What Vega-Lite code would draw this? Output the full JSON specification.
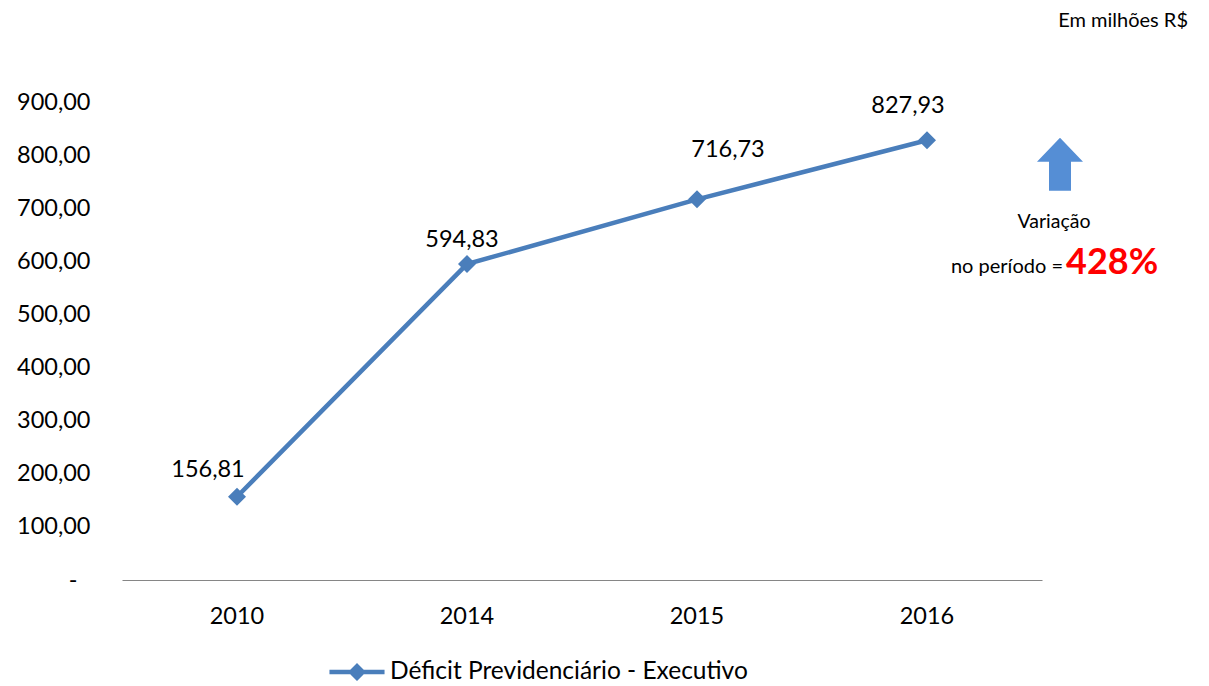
{
  "$schema": "https://vega.github.io/schema/vega-lite/v6.json",
  "autosize": "none",
  "width": 920,
  "height": 478,
  "padding": {"left": 122, "top": 102, "right": 167, "bottom": 106},
  "background": "white",
  "config": {
    "locale": {"number": {"decimal": ",", "thousands": ".", "grouping": [3], "currency": ["R$", ""]}},
    "font": "Lato",
    "view": {"stroke": null},
    "text": {"font": "Lato"}
  },
  "datasets": {
    "main": [
      {"year": "2010", "value": 156.81},
      {"year": "2014", "value": 594.83},
      {"year": "2015", "value": 716.73},
      {"year": "2016", "value": 827.93}
    ]
  },
  "layer": [
    {
      "data": {"name": "main"},
      "mark": {"type": "line", "color": "#4A7EBB", "strokeWidth": 4.5},
      "encoding": {
        "x": {
          "field": "year", "type": "nominal",
          "scale": {"type": "band", "paddingInner": 0, "paddingOuter": 0, "domain": ["2010", "2014", "2015", "2016"]},
          "axis": {"title": null, "labelAngle": 0, "ticks": false, "domainColor": "#868686", "domainWidth": 1.2, "labelFontSize": 23.5, "labelFont": "Lato", "labelColor": "#000", "labelPadding": 24, "grid": false}
        },
        "y": {
          "field": "value", "type": "quantitative",
          "scale": {"domain": [0, 900], "nice": false, "zero": true},
          "axis": {"title": null, "values": [0, 100, 200, 300, 400, 500, 600, 700, 800, 900], "format": ",.2f", "labelExpr": "datum.value === 0 ? '-' : datum.label", "domain": false, "ticks": false, "grid": false, "labelFontSize": 23.5, "labelFont": "Lato", "labelColor": "#000", "labelPadding": {"condition": {"test": "datum.value === 0", "value": 45}, "value": 32}}
        }
      }
    },
    {
      "data": {"name": "main"},
      "mark": {"type": "point", "shape": "diamond", "size": 324, "filled": true, "opacity": 1},
      "encoding": {
        "x": {"field": "year", "type": "nominal"},
        "y": {"field": "value", "type": "quantitative"},
        "color": {
          "datum": "Déficit Previdenciário - Executivo",
          "type": "nominal",
          "scale": {"range": ["#4A7EBB"]},
          "legend": {
            "orient": "none", "legendX": 217, "legendY": 552, "title": null,
            "symbolType": "M-1.53,-0.125L1.53,-0.125L1.53,0.125L-1.53,0.125Z M-0.5,0L0,-0.5L0.5,0L0,0.5Z",
            "symbolSize": 1296, "symbolStrokeWidth": 0, "symbolOpacity": 1, "symbolFillColor": "#4A7EBB",
            "labelFontSize": 24.5, "labelFont": "Lato", "labelColor": "#000", "labelOffset": 15, "padding": 0, "labelLimit": 600
          }
        }
      }
    },
    {"data": {"name": "main"}, "transform": [{"filter": "datum.year === '2010'"}], "mark": {"type": "text", "dx": -29, "dy": -20, "baseline": "alphabetic", "fontSize": 23.5, "color": "#000"}, "encoding": {"x": {"field": "year", "type": "nominal"}, "y": {"field": "value", "type": "quantitative"}, "text": {"field": "value", "type": "quantitative", "format": ",.2f"}}},
    {"data": {"name": "main"}, "transform": [{"filter": "datum.year === '2014'"}], "mark": {"type": "text", "dx": -5, "dy": -17, "baseline": "alphabetic", "fontSize": 23.5, "color": "#000"}, "encoding": {"x": {"field": "year", "type": "nominal"}, "y": {"field": "value", "type": "quantitative"}, "text": {"field": "value", "type": "quantitative", "format": ",.2f"}}},
    {"data": {"name": "main"}, "transform": [{"filter": "datum.year === '2015'"}], "mark": {"type": "text", "dx": 31, "dy": -42, "baseline": "alphabetic", "fontSize": 23.5, "color": "#000"}, "encoding": {"x": {"field": "year", "type": "nominal"}, "y": {"field": "value", "type": "quantitative"}, "text": {"field": "value", "type": "quantitative", "format": ",.2f"}}},
    {"data": {"name": "main"}, "transform": [{"filter": "datum.year === '2016'"}], "mark": {"type": "text", "dx": -19, "dy": -27, "baseline": "alphabetic", "fontSize": 23.5, "color": "#000"}, "encoding": {"x": {"field": "year", "type": "nominal"}, "y": {"field": "value", "type": "quantitative"}, "text": {"field": "value", "type": "quantitative", "format": ",.2f"}}},
    {
      "data": {"name": "main"},
      "transform": [{"filter": "datum.year === '2016'"}],
      "mark": {"type": "point", "shape": "M0,-1L0.868,-0.094L0.415,-0.094L0.415,1L-0.415,1L-0.415,-0.094L-0.868,-0.094Z", "size": 2809, "filled": true, "opacity": 1, "color": "#558ED5", "xOffset": 133, "yOffset": 24},
      "encoding": {"x": {"field": "year", "type": "nominal"}, "y": {"field": "value", "type": "quantitative"}}
    },
    {
      "data": {"name": "main"},
      "transform": [{"filter": "datum.year === '2016'"}],
      "mark": {"type": "text", "text": "Variação", "fontSize": 19.5, "color": "#000", "align": "center", "baseline": "alphabetic", "dx": 127, "dy": 88},
      "encoding": {"x": {"field": "year", "type": "nominal"}, "y": {"field": "value", "type": "quantitative"}}
    },
    {
      "data": {"name": "main"},
      "transform": [{"filter": "datum.year === '2016'"}],
      "mark": {"type": "text", "text": "no período =", "fontSize": 20, "color": "#000", "align": "right", "baseline": "alphabetic", "dx": 136, "dy": 133},
      "encoding": {"x": {"field": "year", "type": "nominal"}, "y": {"field": "value", "type": "quantitative"}}
    },
    {
      "data": {"name": "main"},
      "transform": [{"filter": "datum.year === '2016'"}],
      "mark": {"type": "text", "text": "428%", "fontSize": 36, "fontWeight": "bold", "color": "#FF0000", "align": "left", "baseline": "alphabetic", "dx": 139, "dy": 134},
      "encoding": {"x": {"field": "year", "type": "nominal"}, "y": {"field": "value", "type": "quantitative"}}
    },
    {
      "data": {"name": "main"},
      "transform": [{"filter": "datum.year === '2016'"}],
      "mark": {"type": "text", "text": "Em milhões R$", "fontSize": 20, "color": "#000", "align": "right", "baseline": "alphabetic", "dx": 261, "dy": -113},
      "encoding": {"x": {"field": "year", "type": "nominal"}, "y": {"field": "value", "type": "quantitative"}}
    }
  ]
}
